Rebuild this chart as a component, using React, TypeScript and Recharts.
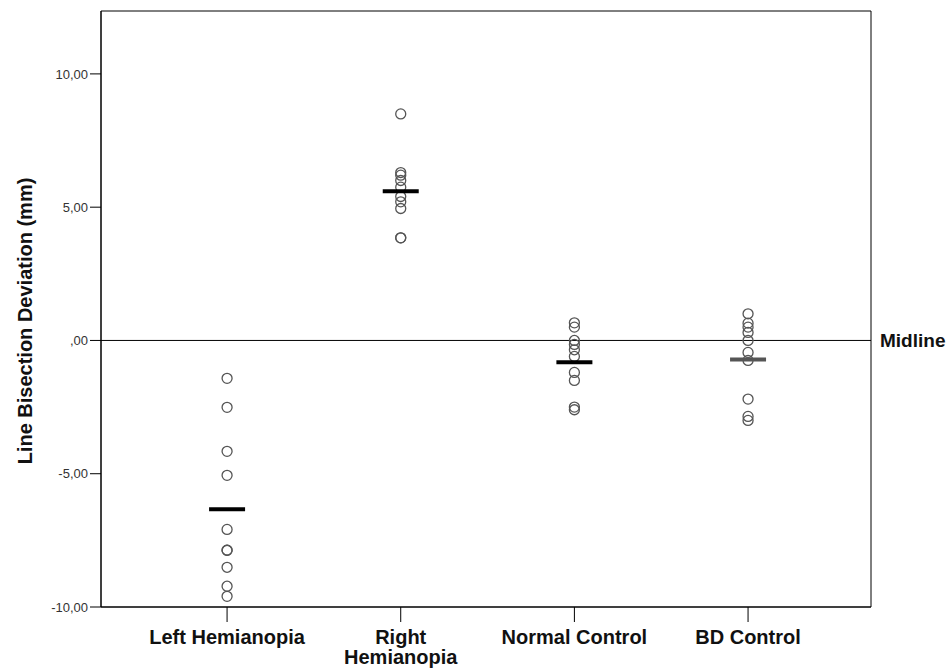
import React from "react";
import {
  ComposedChart,
  Scatter,
  XAxis,
  YAxis,
  ReferenceLine,
  ReferenceArea,
} from "recharts";

const categories = ["Left Hemianopia", "Right Hemianopia", "Normal Control", "BD Control"];

const leftHemianopia = [-1.42, -2.51, -4.16, -5.06, -7.09, -7.87, -7.87, -8.51, -9.22, -9.6];
const rightHemianopia = [8.5, 6.3, 6.2, 6.0, 5.75, 5.4, 5.2, 4.95, 3.85, 3.85];
const normalControl = [0.66, 0.5, 0.0, -0.15, -0.35, -0.6, -1.2, -1.5, -2.5, -2.6];
const bdControl = [1.0, 0.65, 0.5, 0.3, 0.0, -0.45, -0.75, -2.2, -2.85, -3.0];

const groupMeans = [-6.33, 5.6, -0.82, -0.71];
const meanColors = ["#000", "#000", "#000", "#555"];

const yTicks = [-10, -5, 0, 5, 10];

const groups = [leftHemianopia, rightHemianopia, normalControl, bdControl];
const points = groups.flatMap((vals, i) => vals.map((v) => ({ x: i + 1, y: v })));
const means = groupMeans.map((m, i) => ({ x: i + 1, y: m, color: meanColors[i] }));

const font = "Arial, 'Liberation Sans', sans-serif";

const fmtY = (v: number) => {
  const s = Math.abs(v).toFixed(2).replace(".", ",");
  const body = Math.abs(v) < 1 ? s.slice(1) : s;
  return (v < 0 ? "-" : "") + body;
};

const CategoryTick = ({ x, y, payload }: any) => {
  const label = categories[payload.value - 1] || "";
  const lines = label === "Right Hemianopia" ? ["Right", "Hemianopia"] : [label];
  return (
    <text x={x} y={y + 20} textAnchor="middle" fontFamily={font} fontWeight="bold" fontSize={20} fill="#111">
      {lines.map((l, i) => (
        <tspan key={l} x={x} dy={i === 0 ? 0 : 20}>
          {l}
        </tspan>
      ))}
    </text>
  );
};

const YTitle = ({ viewBox }: any) => {
  const cx = 25;
  const cy = viewBox.y + viewBox.height / 2 + 12;
  return (
    <text
      x={cx}
      y={cy}
      transform={`rotate(-90 ${cx} ${cy})`}
      textAnchor="middle"
      dominantBaseline="central"
      fontFamily={font}
      fontWeight="bold"
      fontSize={20}
      fill="#111"
    >
      Line Bisection Deviation (mm)
    </text>
  );
};

const Ring = ({ cx, cy }: any) => (
  <circle cx={cx} cy={cy} r={5} fill="none" stroke="#555" strokeWidth={1.3} />
);

const MeanBar = ({ cx, cy, payload }: any) => (
  <line x1={cx - 18} x2={cx + 18} y1={cy} y2={cy} stroke={payload.color} strokeWidth={4} />
);

export default function App() {
  return (
    <div style={{ position: "fixed", left: 0, top: 0, background: "#fff" }}>
      <ComposedChart width={950} height={668} margin={{ top: 11, right: 79, bottom: 0, left: 0 }}>
        <XAxis
          type="number"
          dataKey="x"
          domain={[0.274, 4.708]}
          ticks={[1, 2, 3, 4]}
          allowDataOverflow
          height={61}
          axisLine={{ stroke: "#000" }}
          tickLine={{ stroke: "#000" }}
          tickSize={15}
          tick={<CategoryTick />}
          interval={0}
        />
        <YAxis
          type="number"
          dataKey="y"
          domain={[-10, 12.36]}
          ticks={yTicks}
          allowDataOverflow
          width={101}
          tickFormatter={fmtY}
          tickSize={11}
          axisLine={{ stroke: "#000" }}
          tickLine={{ stroke: "#000" }}
          tick={{ fill: "#333", fontSize: 13, fontFamily: font }}
          label={<YTitle />}
        />
        <ReferenceArea x1={0.274} x2={4.708} y1={-10} y2={12.36} fill="none" stroke="#000" strokeWidth={1} />
        <ReferenceLine
          y={0}
          stroke="#000"
          strokeWidth={1}
          label={{ value: "Midline", position: "right", offset: 9, style: { fontFamily: font, fontWeight: "bold", fontSize: 19, fill: "#111" } }}
        />
        <Scatter data={points} shape={<Ring />} isAnimationActive={false} />
        <Scatter data={means} shape={<MeanBar />} isAnimationActive={false} />
      </ComposedChart>
    </div>
  );
}
